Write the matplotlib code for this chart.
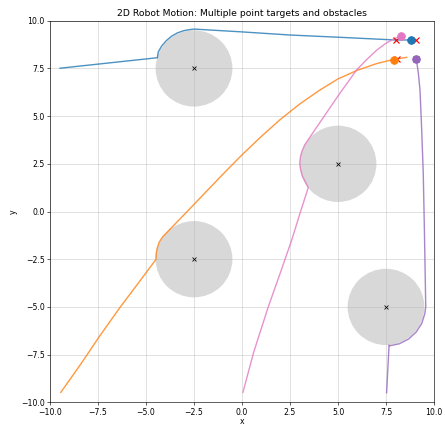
import matplotlib
matplotlib.use('Agg')
import matplotlib.pyplot as plt
from matplotlib.patches import Circle

# obstacles (centre x, centre y), radius
obs_x = [-2.5, 5.0, -2.5, 7.5]
obs_y = [7.5, 2.5, -2.5, -5.0]
obs_r = 2.0

# robot paths
blue_x = [-9.48, -4.41, -4.36, -4.18, -3.95, -3.68, -3.37, -3.03, -2.68, -2.48,
          -0.10, 2.5, 5.10, 7.97, 8.79]
blue_y = [7.51, 8.06, 8.37, 8.68, 8.95, 9.18, 9.36, 9.48, 9.54, 9.56,
          9.42, 9.25, 9.13, 8.99, 8.99]

orange_x = [-9.44, -8.4, -7.43, -6.35, -5.4, -4.48, -4.47, -4.41, -4.31, -4.13,
            -3.0, -2.0, -1.0, 0.0, 1.0, 2.0, 3.0, 4.0, 5.0, 6.0, 7.0, 7.93, 8.58]
orange_y = [-9.48, -8.0, -6.55, -5.02, -3.75, -2.51, -2.2, -1.9, -1.6, -1.32,
            -0.15, 0.9, 1.95, 2.97, 3.93, 4.83, 5.63, 6.33, 6.95, 7.4, 7.75, 7.98, 8.08]

pink_x = [0.05, 0.6, 1.37, 2.0, 2.59, 3.05, 3.45, 3.30, 3.15, 3.05, 3.01, 3.04, 3.12,
          3.27, 3.89, 4.5, 5.1, 5.6, 5.97, 6.5, 7.02, 7.5, 7.97, 8.32]
pink_y = [-9.47, -7.4, -4.99, -3.2, -1.49, 0.0, 1.25, 1.55, 1.85, 2.2, 2.53, 2.85, 3.15,
          3.5, 4.42, 5.32, 6.2, 6.9, 7.42, 7.97, 8.46, 8.82, 9.08, 9.20]

purple_x = [7.53, 7.66, 7.68, 8.20, 8.68, 9.07, 9.36, 9.52, 9.57, 9.50, 9.44, 9.35, 9.27, 9.18, 9.08]
purple_y = [-9.50, -7.00, -7.04, -6.93, -6.68, -6.32, -5.87, -5.36, -4.99, -1.0, 2.0, 4.5, 6.37, 7.3, 7.96]

# final positions and targets
end_x = [8.79, 7.92, 8.30, 9.06]
end_y = [8.99, 7.95, 9.18, 7.97]
end_cols = ['C0', 'C1', 'C6', 'C4']
target_x = [8.0, 9.05, 8.05, 9.05]
target_y = [9.0, 9.0, 8.0, 8.0]

dpi = 55.625
fig = plt.figure(figsize=(445 / dpi, 427 / dpi), dpi=dpi)
ax = fig.add_axes([0.1124, 0.0578, 0.8629, 0.8937])

for cx, cy in zip(obs_x, obs_y):
    ax.add_patch(Circle((cx, cy), obs_r, color='gray', alpha=0.3, lw=0))
ax.plot(obs_x, obs_y, 'kx', ls='none')

ax.plot(blue_x, blue_y, color='C0', alpha=0.8, lw=1.8)
ax.plot(orange_x, orange_y, color='C1', alpha=0.8, lw=1.8)
ax.plot(pink_x, pink_y, color='C6', alpha=0.8, lw=1.8)
ax.plot(purple_x, purple_y, color='C4', alpha=0.8, lw=1.8)

ax.plot(target_x, target_y, 'x', color='red', ls='none', markersize=7, mew=1.5)
for x, y, c in zip(end_x, end_y, end_cols):
    ax.plot(x, y, 'o', color=c, markersize=10)

ax.set_xlim(-10, 10)
ax.set_ylim(-10, 10)
ax.grid(True, alpha=0.6)
ax.set_title('2D Robot Motion: Multiple point targets and obstacles')
ax.set_xlabel('x', labelpad=1)
ax.set_ylabel('y')

plt.savefig('out.png', dpi=dpi)
